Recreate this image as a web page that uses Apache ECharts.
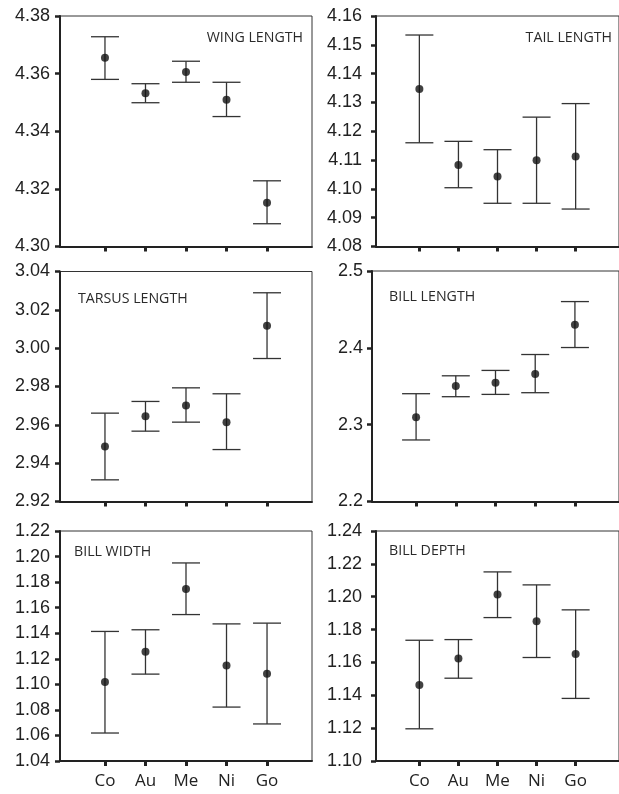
<!DOCTYPE html>
<html>
<head>
<meta charset="utf-8">
<script src="https://cdn.jsdelivr.net/npm/echarts/dist/echarts.min.js"></script>
<style>
html,body{margin:0;padding:0;background:#fff;}
#chart{width:619px;height:794px;}
</style>
</head>
<body>
<div id="chart"></div>
<script>
// ---- data ----
const categories = ['Co', 'Au', 'Me', 'Ni', 'Go'];

const wingMean = [4.3655, 4.3532, 4.3606, 4.3509, 4.3152];
const wingLow  = [4.3580, 4.3499, 4.3570, 4.3451, 4.3079];
const wingHigh = [4.3728, 4.3565, 4.3643, 4.3570, 4.3228];

const tailMean = [4.1347, 4.1083, 4.1043, 4.1099, 4.1112];
const tailLow  = [4.1160, 4.1004, 4.0950, 4.0950, 4.0930];
const tailHigh = [4.1534, 4.1165, 4.1136, 4.1249, 4.1296];

const tarsusMean = [2.9487, 2.9645, 2.9701, 2.9614, 3.0117];
const tarsusLow  = [2.9313, 2.9567, 2.9614, 2.9471, 2.9946];
const tarsusHigh = [2.9661, 2.9722, 2.9793, 2.9762, 3.0289];

const billLenMean = [2.3095, 2.3502, 2.3545, 2.3658, 2.4299];
const billLenLow  = [2.2801, 2.3364, 2.3394, 2.3416, 2.4004];
const billLenHigh = [2.3403, 2.3636, 2.3706, 2.3913, 2.4602];

const billWidMean = [1.1018, 1.1255, 1.1747, 1.1148, 1.1083];
const billWidLow  = [1.0619, 1.1080, 1.1546, 1.0822, 1.0690];
const billWidHigh = [1.1414, 1.1427, 1.1950, 1.1473, 1.1479];

const billDepMean = [1.1462, 1.1624, 1.2013, 1.1851, 1.1652];
const billDepLow  = [1.1196, 1.1504, 1.1873, 1.1630, 1.1381];
const billDepHigh = [1.1735, 1.1739, 1.2151, 1.2072, 1.1920];

const panelTitles = ['WING LENGTH', 'TAIL LENGTH', 'TARSUS LENGTH', 'BILL LENGTH', 'BILL WIDTH', 'BILL DEPTH'];
const yMins = [4.30, 4.08, 2.92, 2.2, 1.04, 1.10];
const yMaxs = [4.38, 4.16, 3.04, 2.5, 1.22, 1.24];
const yIntervals = [0.02, 0.01, 0.02, 0.1, 0.02, 0.02];
const yDecimals = [2, 2, 2, 1, 2, 2];

const panels = [
  [wingMean, wingLow, wingHigh],
  [tailMean, tailLow, tailHigh],
  [tarsusMean, tarsusLow, tarsusHigh],
  [billLenMean, billLenLow, billLenHigh],
  [billWidMean, billWidLow, billWidHigh],
  [billDepMean, billDepLow, billDepHigh]
];

// ---- layout ----
const gridBoxes = [
  {left: 60,  top: 16,  width: 252, height: 230.5},
  {left: 376, top: 16,  width: 252, height: 230.5},
  {left: 60,  top: 271.5, width: 252, height: 230},
  {left: 372, top: 271, width: 255, height: 230.5},
  {left: 60,  top: 531, width: 252, height: 230},
  {left: 376, top: 531, width: 252, height: 230}
];
const labelMargins = [10, 14, 10, 9, 10, 14];
const titlePos = [
  {x: 303, y: 38, align: 'right'},
  {x: 612, y: 38, align: 'right'},
  {x: 78, y: 299, align: 'left'},
  {x: 389, y: 297, align: 'left'},
  {x: 74, y: 552, align: 'left'},
  {x: 389, y: 551, align: 'left'}
];

const ink = '#222';
const barInk = '#333';
const catIdx = categories.map((c, i) => i + 1);

const grids = [], xAxes = [], yAxes = [], series = [], graphics = [];

panels.forEach((p, g) => {
  const b = gridBoxes[g];
  grids.push({left: b.left, top: b.top, width: b.width, height: b.height,
    show: true, borderColor: '#333', borderWidth: 1, backgroundColor: 'transparent', containLabel: false});
  const bottomRow = g >= 4;
  xAxes.push({
    type: 'value', gridIndex: g, min: -0.11, max: 6.11,
    splitLine: {show: false},
    axisLine: {show: true, onZero: false, lineStyle: {color: ink, width: 2}},
    axisTick: {show: true, customValues: catIdx, length: 5, inside: false, lineStyle: {color: ink, width: 3}},
    axisLabel: {show: bottomRow, customValues: catIdx, margin: 12,
      formatter: v => categories[Math.round(v) - 1] || '',
      fontFamily: 'Open Sans', fontSize: 17, color: ink}
  });
  yAxes.push({
    type: 'value', gridIndex: g, min: yMins[g], max: yMaxs[g], interval: yIntervals[g],
    splitLine: {show: false},
    axisLine: {show: true, onZero: false, lineStyle: {color: ink, width: 2}},
    axisTick: {show: true, length: 5, lineStyle: {color: ink, width: 2.5}},
    axisLabel: {margin: labelMargins[g], fontFamily: 'Liberation Sans', fontSize: 18, color: ink,
      formatter: v => Number(v).toFixed(yDecimals[g])}
  });
  const [mean, low, high] = p;
  series.push({
    type: 'custom', xAxisIndex: g, yAxisIndex: g, silent: true, clip: false,
    data: low.map((l, i) => [catIdx[i], l, high[i]]),
    encode: {x: 0, y: [1, 2]},
    renderItem: function (params, api) {
      const x = api.value(0);
      const lo = api.coord([x, api.value(1)]);
      const hi = api.coord([x, api.value(2)]);
      const hw = 14;
      const st = {stroke: barInk, lineWidth: 1.3, fill: null};
      return {type: 'group', children: [
        {type: 'line', shape: {x1: lo[0], y1: lo[1], x2: hi[0], y2: hi[1]}, style: st},
        {type: 'line', shape: {x1: lo[0] - hw, y1: lo[1], x2: lo[0] + hw, y2: lo[1]}, style: st},
        {type: 'line', shape: {x1: hi[0] - hw, y1: hi[1], x2: hi[0] + hw, y2: hi[1]}, style: st}
      ]};
    }
  });
  series.push({
    type: 'scatter', xAxisIndex: g, yAxisIndex: g, silent: true,
    symbol: 'circle', symbolSize: 8,
    itemStyle: {color: '#111'},
    data: mean.map((m, i) => [catIdx[i], m])
  });
  const t = titlePos[g];
  graphics.push({type: 'text', x: t.x, y: t.y, silent: true,
    style: {text: panelTitles[g], font: '14.2px "Open Sans"', fill: '#2a2a2a',
      textAlign: t.align, align: t.align, textVerticalAlign: 'middle', verticalAlign: 'middle'}});
});

const chart = echarts.init(document.getElementById('chart'), null, {renderer: 'canvas'});
chart.setOption({
  animation: false,
  backgroundColor: '#fff',
  grid: grids,
  xAxis: xAxes,
  yAxis: yAxes,
  series: series,
  graphic: graphics
});
</script>
</body>
</html>
